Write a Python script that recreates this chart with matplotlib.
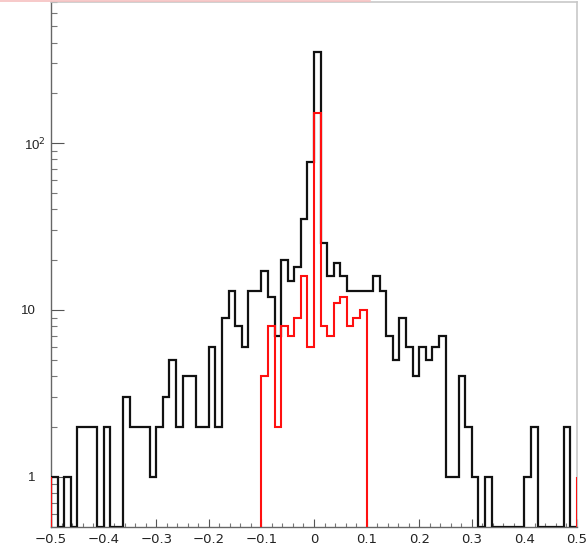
import numpy as np
import matplotlib
matplotlib.use("Agg")
import matplotlib.pyplot as plt
from matplotlib.lines import Line2D
from matplotlib.transforms import ScaledTranslation
from matplotlib.ticker import FixedLocator, MultipleLocator, NullFormatter

# 80 bins of 0.0125 from -0.5 to 0.5
x_lo, x_hi, nbins = -0.5, 0.5, 80

black_counts = [1, 0, 1, 0, 2, 2, 2, 0, 2, 0,
                0, 3, 2, 2, 2, 1, 2, 3, 5, 2,
                4, 4, 2, 2, 6, 2, 9, 13, 8, 6,
                13, 13, 17, 12, 7, 20, 15, 18, 35, 77,
                350, 25, 16, 19, 16, 13, 13, 13, 13, 16,
                13, 7, 5, 9, 6, 4, 6, 5, 6, 7,
                1, 1, 4, 2, 1, 0, 1, 0, 0, 0,
                0, 0, 1, 2, 0, 0, 0, 0, 2, 0]

# red histogram only filled between -0.1 and 0.1 (bins 32..47)
red_first_bin = 32
red_counts = [4, 8, 2, 8, 7, 9, 16, 6, 152, 8, 7, 11, 12, 8, 9, 10]
red_edge_height = [1, 1]   # little red stubs on both frame edges

xtick_vals = [-0.5, -0.4, -0.3, -0.2, -0.1, 0, 0.1, 0.2, 0.3, 0.4, 0.5]
xtick_labels = ['\u22120.5', '\u22120.4', '\u22120.3', '\u22120.2', '\u22120.1',
                '0', '0.1', '0.2', '0.3', '0.4', '0.5']
ytick_vals = [1, 10, 100]
ytick_labels = ['1', '10', '10$^{\\mathsf{2}}$']

ymin, ymax = 0.5, 700

plt.rcParams['font.family'] = ['Liberation Sans', 'DejaVu Sans']
plt.rcParams['mathtext.default'] = 'regular'

fig = plt.figure(figsize=(5.87, 5.5), dpi=100)
ax = fig.add_axes([51/587, 1-527/550, (577-51)/587, (527-2)/550])

edges = np.linspace(x_lo, x_hi, nbins + 1)
black = np.array(black_counts, dtype=float)
black[black <= 0] = ymin   # empty bins sit on the axis like in ROOT
ax.stairs(black, edges, baseline=ymin, color='#111111', lw=1.6, zorder=3)

red_edges = edges[red_first_bin:red_first_bin + len(red_counts) + 1]
ax.stairs(red_counts, red_edges, baseline=ymin, color='#ff1010', lw=1.5, zorder=4)
ax.vlines([x_lo, x_hi], ymin, red_edge_height, color='#ff1010', lw=1.5, zorder=5)

ax.set_yscale('log')
ax.set_xlim(x_lo, x_hi)
ax.set_ylim(ymin, ymax)

ax.xaxis.set_major_locator(FixedLocator(xtick_vals))
ax.set_xticklabels(xtick_labels, family='DejaVu Sans')
ax.xaxis.set_minor_locator(MultipleLocator(0.02))
ax.yaxis.set_major_locator(FixedLocator(ytick_vals))
ax.set_yticklabels(ytick_labels)
minors = [m * 10**d for d in range(-1, 3) for m in range(2, 10)]
ax.yaxis.set_minor_locator(FixedLocator(minors))
ax.yaxis.set_minor_formatter(NullFormatter())

ax.tick_params(axis='x', which='major', direction='in', length=6, width=0.8,
               color='#555555', labelsize=9.5, pad=4, labelcolor='#222222')
ax.tick_params(axis='x', which='minor', direction='in', length=3, width=0.8, color='#777777')
ax.tick_params(axis='y', which='major', direction='in', length=9, width=0.8,
               color='#555555', labelsize=9.5, pad=11, labelcolor='#222222')
ax.tick_params(axis='y', which='minor', direction='in', length=4, width=0.8, color='#777777')

# ROOT puts the exponent to the right of the "10" column
lab = ax.get_yticklabels()[2]
lab.set_transform(lab.get_transform() + ScaledTranslation(10/100, 0, fig.dpi_scale_trans))

for s in ['left', 'bottom']:
    ax.spines[s].set_color('#666666')
    ax.spines[s].set_linewidth(1.0)
for s in ['top', 'right']:
    ax.spines[s].set_color('#c8c8c8')
    ax.spines[s].set_linewidth(1.2)

# pinkish strip at the very top of the picture
fig.add_artist(Line2D([0, 370/587], [1 - 0.6/550, 1 - 0.6/550], color='#f6c0c0',
                      lw=1.2, transform=fig.transFigure))

fig.savefig('out.png', dpi=100)
